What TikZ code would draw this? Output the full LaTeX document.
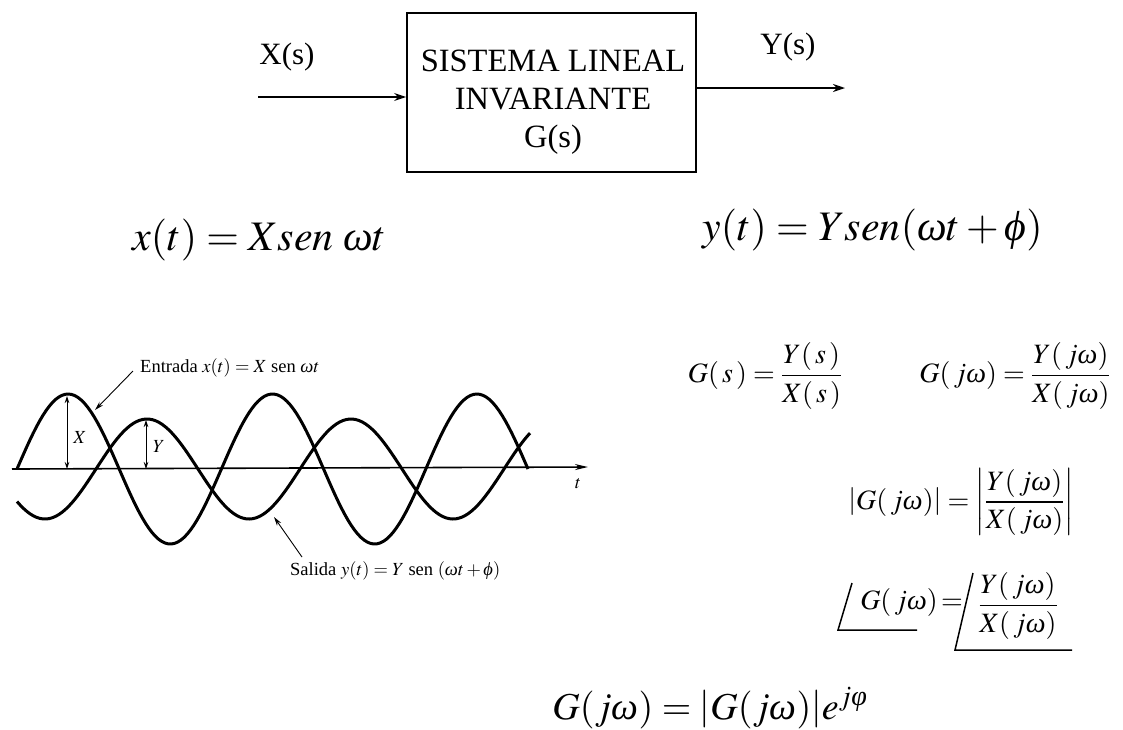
\documentclass[tikz,border=0pt]{standalone}
\usepackage{amsmath}
\usepackage{mathptmx}
\usepackage{fontspec}
\setmainfont{Liberation Serif}
\usetikzlibrary{arrows.meta}
\newcommand{\om}{\text{\itshape ω}}
\newcommand{\phs}{\text{\itshape ϕ}}
\newcommand{\phv}{\text{\itshape φ}}
\begin{document}
\begin{tikzpicture}[x=1pt,y=-1pt,
  sig/.style={-{Stealth[length=12pt,width=8pt]}, line width=1.8pt},
  wave/.style={line width=3pt, line join=round},
  ptr/.style={-{Stealth[length=9pt,width=5pt]}, line width=0.9pt},
  dim/.style={{Stealth[length=7pt,width=4.5pt]}-{Stealth[length=7pt,width=4.5pt]}, line width=0.9pt},
  big/.style={font=\fontsize{32.5}{38}\selectfont, inner sep=0pt},
  xbig/.style={font=\fontsize{31}{38}\selectfont, inner sep=0pt},
  eq/.style={font=\fontsize{42}{50}\selectfont, inner sep=0pt},
  peq/.style={font=\fontsize{38}{46}\selectfont, inner sep=0pt},
  feq/.style={font=\fontsize{28}{33}\selectfont, inner sep=0pt},
  small/.style={font=\fontsize{18.5}{22}\selectfont, inner sep=0pt},
  angl/.style={line width=1.5pt},
]
\useasboundingbox (0,0) rectangle (1123,729);
% block diagram
\node[draw, line width=1.8pt, minimum width=289pt, minimum height=159pt] (sys) at (551.5,92.5) {};
\node[big, align=center] (syst) at (553,102) {SISTEMA LINEAL\\INVARIANTE\\G(s)};
\coordinate (in) at (258,97);
\draw[sig] (in) -- (sys.west |- in);
\coordinate (out) at (845,88);
\draw[sig] (sys.east |- out) -- (out);
\node[xbig] (xs) at (287,57) {X(s)};
\node[xbig] (ys) at (788,47) {Y(s)};
% time equations
\node[eq, anchor=base west] (xt) at (132,250) {$x(t) = X\mathit{sen}\;\om t$};
\node[eq, anchor=base west] (yt) at (702,240) {$y(t) = Y\mathit{sen}(\om t + \phs)$};
% plot
\coordinate (a0) at (12,469);
\coordinate (a1) at (588,467);
\draw[line width=1.6pt, -{Stealth[length=13pt,width=6pt]}] (a0) -- (a1);
\node[small] (tl) at (578,484) {$t$};
\draw[wave] plot[domain=0:511, samples=160] ({17+\x},{469-75*sin(1.76125*\x)});
\draw[wave] plot[domain=17:530, samples=160] (\x,{469-50*sin(1.76471*(\x-147)+90)});
\coordinate (xa) at (67,396);
\coordinate (xb) at (67,469);
\draw[dim] (xa) -- (xb);
\node[small] (xl) at (80,437) {$X$};
\coordinate (ya) at (146,420);
\coordinate (yb) at (146,469);
\draw[dim] (ya) -- (yb);
\node[small] (yl) at (159,446) {$Y$};
\node[small, anchor=west] (entr) at (140,368) {Entrada $x(t) = X$ sen $\om t$};
\coordinate (et) at (95,410);
\coordinate (es) at (133,371);
\draw[ptr] (es) -- (et);
\node[small, anchor=west] (sal) at (290,571) {Salida $y(t) = Y$ sen $(\om t + \phs)$};
\coordinate (st) at (274,517);
\coordinate (ss) at (302,557);
\draw[ptr] (ss) -- (st);
% frequency formulas
\node[feq] (gs) at (765,376) {$\displaystyle G(\,s\,)=\frac{Y(\,s\,)}{X(\,s\,)}$};
\node[feq] (gjw) at (1015,376) {$\displaystyle G(\,j\om)=\frac{Y(\,j\om)}{X(\,j\om)}$};
\node[feq] (mag) at (961,502) {$\displaystyle \left|G(\,j\om)\right|=\left|\frac{Y(\,j\om)}{X(\,j\om)}\right|$};
\node[feq] (ag) at (899,602) {$G(\,j\om)$};
\node[feq] (aeq) at (952,604) {$=$};
\node[feq] (afr) at (1018,606) {$\displaystyle\frac{Y(\,j\om)}{X(\,j\om)}$};
\draw[angl] (852,583) -- (838,630) -- (917,630);
\draw[angl] (973,573) -- (955,650) -- (1072,650);
\node[peq, anchor=base] (pol) at (710,719) {$G(j\om) = \left|G(j\om)\right|\! e^{j\phv}$};
\end{tikzpicture}
\end{document}
